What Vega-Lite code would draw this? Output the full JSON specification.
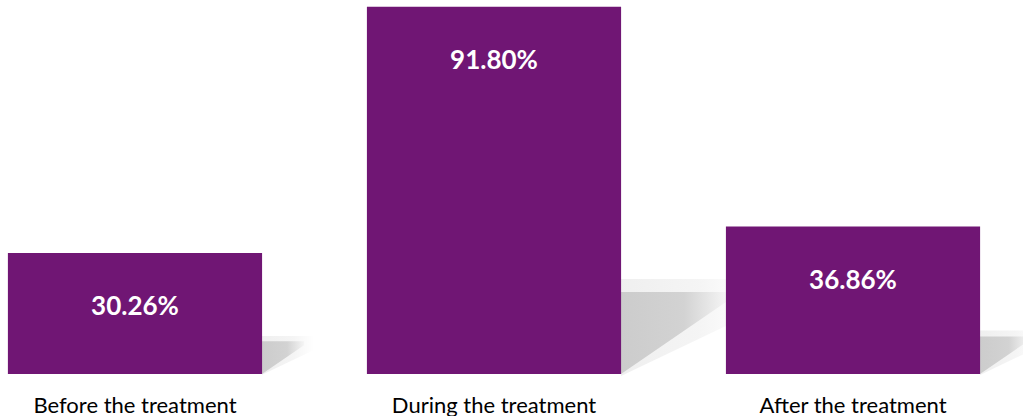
{
  "$schema": "https://vega.github.io/schema/vega-lite/v6.json",
  "width": 988,
  "height": 374,
  "padding": 0,
  "autosize": {"type": "pad"},
  "background": "white",
  "config": {"view": {"stroke": null}, "font": "Lato"},
  "data": {
    "values": [
      {"phase": "Before the treatment", "rate": 0.3026},
      {"phase": "During the treatment", "rate": 0.9180},
      {"phase": "After the treatment", "rate": 0.3686}
    ]
  },
  "encoding": {
    "x": {
      "field": "phase",
      "type": "nominal",
      "sort": null,
      "scale": {"paddingInner": 0.292, "paddingOuter": 0.022},
      "axis": {
        "title": null,
        "labelAngle": 0,
        "domain": false,
        "ticks": false,
        "labelFont": "Lato",
        "labelFontSize": 22,
        "labelLimit": 0,
        "labelColor": "#000000",
        "labelPadding": 21
      }
    },
    "y": {
      "field": "rate",
      "type": "quantitative",
      "scale": {"domain": [0, 0.935]},
      "axis": null
    }
  },
  "layer": [
    {
      "description": "outer halo of the floor shadow, gives it a soft edge",
      "mark": {
        "type": "point",
        "shape": "M0,0.02L0,-0.95L1.3,-0.95L1.3,-0.6Z",
        "filled": true,
        "opacity": 0.45,
        "strokeWidth": 0,
        "xOffset": 127,
        "fill": {
          "gradient": "linear",
          "x1": 0, "y1": 0, "x2": 1, "y2": 0,
          "stops": [
            {"offset": 0, "color": "#dcdcdc"},
            {"offset": 0.6, "color": "#e8e8e8"},
            {"offset": 1, "color": "#ffffff"}
          ]
        }
      },
      "encoding": {
        "y": {"datum": 0},
        "size": {
          "field": "rate",
          "type": "quantitative",
          "scale": {"type": "pow", "exponent": 2, "domain": [0, 0.918], "range": [2300, 40000]},
          "legend": null
        }
      }
    },
    {
      "description": "core of the floor shadow cast to the right of each bar, scaled with bar height",
      "mark": {
        "type": "point",
        "shape": "M0,0L0,-0.82L1.05,-0.82L1.05,-0.72Z",
        "filled": true,
        "opacity": 0.9,
        "strokeWidth": 0,
        "xOffset": 127,
        "fill": {
          "gradient": "linear",
          "x1": 0, "y1": 0, "x2": 1, "y2": 0,
          "stops": [
            {"offset": 0, "color": "#c8c8c8"},
            {"offset": 0.6, "color": "#cfcfcf"},
            {"offset": 1, "color": "#f4f4f4"}
          ]
        }
      },
      "encoding": {
        "y": {"datum": 0},
        "size": {
          "field": "rate",
          "type": "quantitative",
          "scale": {"type": "pow", "exponent": 2, "domain": [0, 0.918], "range": [2300, 40000]},
          "legend": null
        }
      }
    },
    {"mark": {"type": "bar", "color": "#701674"}},
    {
      "mark": {
        "type": "text",
        "baseline": "middle",
        "dy": 54,
        "font": "Lato",
        "fontWeight": "bold",
        "fontSize": 26,
        "color": "#ffffff"
      },
      "encoding": {
        "text": {"field": "rate", "type": "quantitative", "format": ".2%"}
      }
    }
  ]
}
